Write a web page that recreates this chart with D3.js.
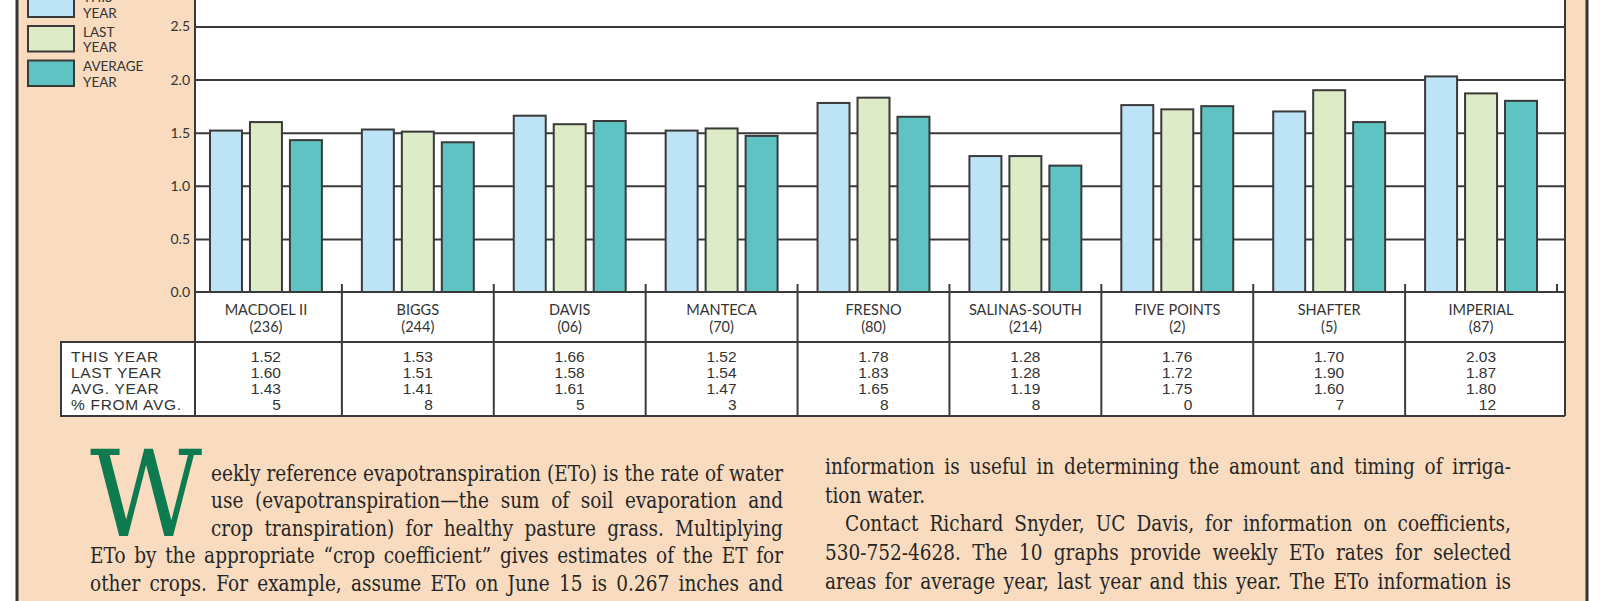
<!DOCTYPE html>
<html><head><meta charset="utf-8">
<script src="https://cdn.jsdelivr.net/npm/d3@7"></script>
<style>body{margin:0;background:#fff;} svg{display:block}</style>
</head><body><svg id="c" width="1600" height="601"></svg>
<script>
const stations = ["MACDOEL II","BIGGS","DAVIS","MANTECA","FRESNO","SALINAS-SOUTH","FIVE POINTS","SHAFTER","IMPERIAL"];
const stationCodes = ["(236)","(244)","(06)","(70)","(80)","(214)","(2)","(5)","(87)"];
const thisYear = [1.52,1.53,1.66,1.52,1.78,1.28,1.76,1.70,2.03];
const lastYear = [1.60,1.51,1.58,1.54,1.83,1.28,1.72,1.90,1.87];
const avgYear  = [1.43,1.41,1.61,1.47,1.65,1.19,1.75,1.60,1.80];
const pctFromAvg = [5,8,5,3,8,8,0,7,12];
const seriesNames = ["THIS YEAR","LAST YEAR","AVERAGE YEAR"];
const rowLabels = ["THIS YEAR","LAST YEAR","AVG. YEAR","% FROM AVG."];
const yTicks = [0,0.5,1.0,1.5,2.0,2.5,3.0];
const dropCap = "W";
const leftLines = [
  "eekly reference evapotranspiration (ETo) is the rate of water",
  "use (evapotranspiration\u2014the sum of soil evaporation and",
  "crop transpiration) for healthy pasture grass. Multiplying",
  "ETo by the appropriate \u201Ccrop coefficient\u201D gives estimates of the ET for",
  "other crops. For example, assume ETo on June 15 is 0.267 inches and"
];
const rightLines = [
  "information is useful in determining the amount and timing of irriga-",
  "tion water.",
  "Contact Richard Snyder, UC Davis, for information on coefficients,",
  "530-752-4628. The 10 graphs provide weekly ETo rates for selected",
  "areas for average year, last year and this year. The ETo information is",
  "provided by the California Irrigation Management Information System"
];

const colors = ["#bde3f6","#ddecc7","#60c3c3"];
const ink = "#3a3a3a";
const svg = d3.select("#c");

// page
svg.append("rect").attr("width",1600).attr("height",601).attr("fill","#fff");
svg.append("rect").attr("x",17).attr("y",0).attr("width",1570).attr("height",601).attr("fill","#f9dcc0");
svg.append("line").attr("x1",17).attr("x2",17).attr("y1",0).attr("y2",601).attr("stroke","#333").attr("stroke-width",3);
svg.append("line").attr("x1",1587).attr("x2",1587).attr("y1",0).attr("y2",601).attr("stroke","#333").attr("stroke-width",3);

const plotL = 195, plotR = 1565;
const x = d3.scaleBand().domain(stations).range([190,1557]);
const xs = d3.scaleBand().domain(seriesNames).range([0,x.bandwidth()]).paddingInner(0.2).paddingOuter(0.5);
const y = d3.scaleLinear().domain([0,3]).range([292, 292-3*106.2]);

svg.append("rect").attr("x",plotL).attr("y",y(3)).attr("width",plotR-plotL).attr("height",y(0)-y(3)).attr("fill","#fff");

// grid + y labels
const ax = svg.append("g").attr("transform",`translate(${plotL},0)`)
  .call(d3.axisLeft(y).tickValues(yTicks).tickFormat(d3.format(".1f")).tickSize(-(plotR-plotL)).tickPadding(5));
ax.select(".domain").remove();
ax.selectAll(".tick line").attr("stroke",ink).attr("stroke-width",2);
ax.selectAll(".tick text").attr("font-family","Lato, sans-serif").attr("font-size",14).attr("fill","#333");

// bars
const series = [thisYear,lastYear,avgYear];
stations.forEach((s,i)=>{
  const g = svg.append("g").attr("transform",`translate(${x(s)},0)`);
  series.forEach((arr,k)=>{
    g.append("rect").attr("x",xs(seriesNames[k])).attr("width",xs.bandwidth())
      .attr("y",y(arr[i])).attr("height",y(0)-y(arr[i]))
      .attr("fill",colors[k]).attr("stroke",ink).attr("stroke-width",2);
  });
});

// table
const tTop = y(0), tMid = 342, tBot = 416;
svg.append("rect").attr("x",plotL).attr("y",tTop).attr("width",plotR-plotL).attr("height",tBot-tTop).attr("fill","#fff");
svg.append("rect").attr("x",61).attr("y",tMid).attr("width",plotL-61).attr("height",tBot-tMid).attr("fill","#fff").attr("stroke",ink).attr("stroke-width",2);
const L = (x1,y1,x2,y2)=>svg.append("line").attr("x1",x1).attr("y1",y1).attr("x2",x2).attr("y2",y2).attr("stroke",ink).attr("stroke-width",2);
L(plotL,y(3),plotL,tBot); L(plotR,y(3),plotR,tBot);
L(plotL,tTop,plotR,tTop); L(61,tMid,plotR,tMid); L(61,tBot,plotR,tBot);
stations.forEach((s,i)=>{
  const xe = x(s)+x.bandwidth();
  L(xe,tTop-8,xe,tTop);
  if(i<stations.length-1) L(xe,tTop,xe,tBot);
});
stations.forEach((s,i)=>{
  const cx = x(s)+x.bandwidth()/2;
  const tg = svg.append("g").attr("font-family","Lato, sans-serif").attr("font-size",14.5).attr("fill","#333").attr("text-anchor","middle");
  tg.append("text").attr("x",cx).attr("y",315).text(s);
  tg.append("text").attr("x",cx).attr("y",332).text(stationCodes[i]);
  const vals = [thisYear[i].toFixed(2),lastYear[i].toFixed(2),avgYear[i].toFixed(2),String(pctFromAvg[i])];
  const vg = svg.append("g").attr("font-family","'Liberation Sans', Arial, sans-serif").attr("font-size",15.5).attr("fill","#333").attr("text-anchor","end");
  vals.forEach((v,k)=> vg.append("text").attr("x",cx+15).attr("y",361.5+16*k).text(v));
});
const rg = svg.append("g").attr("font-family","'Liberation Sans', Arial, sans-serif").attr("font-size",15.5).attr("fill","#333").attr("letter-spacing",0.7);
rowLabels.forEach((r,k)=> rg.append("text").attr("x",71).attr("y",361.5+16*k).text(r));

// legend
seriesNames.forEach((s,k)=>{
  const top = -8.5 + 34.5*k;
  svg.append("rect").attr("x",28).attr("y",top).attr("width",46).attr("height",25.5).attr("fill",colors[k]).attr("stroke",ink).attr("stroke-width",2);
  const parts = s.split(" ");
  parts.forEach((p,j)=> svg.append("text").attr("x",83).attr("y",2+34.5*k+15.5*j)
    .attr("font-family","Lato, sans-serif").attr("font-size",13.5).attr("fill","#333").text(p));
});

// body text
const bodyFont = "'DejaVu Serif', serif", bodySize = 21.5;
const meas = svg.append("text").attr("font-family",bodyFont).attr("font-size",bodySize).attr("visibility","hidden");
function w(str){ meas.text(str); return meas.node().getComputedTextLength(); }
const spaceW = w("a a") - w("aa");
const blocks = [
  {lines:leftLines, x0:[211,211,211,90,90], x1:783, y0:481, lh:27.4, just:[1,1,1,1,1]},
  {lines:rightLines, x0:[825,825,845,825,825,825], x1:1511, y0:474, lh:28.7, just:[1,0,1,1,1,1]}
];
let r = 0.86;
blocks.forEach(b=>b.lines.forEach((l,i)=>{ if(b.just[i]) r = Math.min(r,(b.x1-b.x0[i])/w(l)); }));
blocks.forEach(b=>{
  b.lines.forEach((l,i)=>{
    const words = l.split(" ");
    const ww = words.map(w);
    const tot = d3.sum(ww);
    const gap = b.just[i] && words.length>1 ? ((b.x1-b.x0[i])/r - tot)/(words.length-1) : spaceW;
    const g = svg.append("g").attr("transform",`translate(${b.x0[i]},${b.y0+b.lh*i}) scale(${r},1)`);
    const t = g.append("text").attr("font-family",bodyFont).attr("font-size",bodySize).attr("fill","#262626");
    let cx = 0;
    words.forEach((wd,j)=>{ t.append("tspan").attr("x",cx).attr("y",0).text(wd); cx += ww[j]+gap; });
  });
});
meas.remove();
// drop cap
svg.append("text").attr("x",90).attr("y",536).attr("font-family",bodyFont).attr("font-size",119)
  .attr("fill","#0e7a4f").attr("textLength",112).attr("lengthAdjust","spacingAndGlyphs").text(dropCap);
</script></body></html>
